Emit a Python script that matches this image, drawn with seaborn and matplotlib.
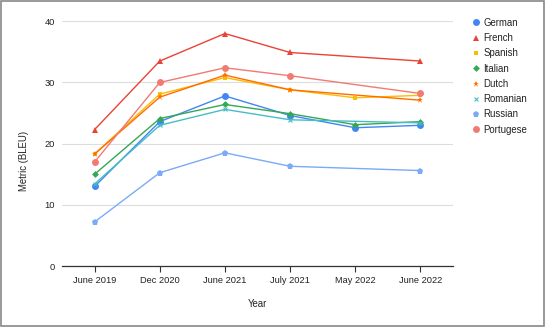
import numpy as np
import pandas as pd
import seaborn as sns
import matplotlib.pyplot as plt
from matplotlib.lines import Line2D
from matplotlib.patches import Rectangle

years = ["June 2019", "Dec 2020", "June 2021", "July 2021", "May 2022", "June 2022"]
languages = ["German", "French", "Spanish", "Italian", "Dutch", "Romanian", "Russian", "Portugese"]

german = [13.0, 23.6, 27.8, 24.6, 22.6, 23.0]
french = [22.3, 33.5, 38.0, 34.9, np.nan, 33.5]
spanish = [18.3, 28.1, 30.8, 28.8, 27.5, 27.9]
italian = [15.0, 24.1, 26.4, 24.9, 23.1, 23.6]
dutch = [18.3, 27.6, 31.2, 28.8, np.nan, 27.1]
romanian = [13.4, 23.0, 25.6, 23.9, np.nan, 23.4]
russian = [7.2, 15.25, 18.5, 16.3, np.nan, 15.6]
portugese = [17.0, 30.0, 32.4, 31.1, np.nan, 28.2]

colors = ["#4285F4", "#EA4335", "#FBBC04", "#34A853", "#FF6D01", "#46BDC6", "#7BAAF7", "#F07B72"]
markers = ["o", "^", "s", "D", "*", "x", "p", "o"]
msizes = [5, 3.8, 3.5, 3.5, 5, 3.2, 4.6, 5]

series = [german, french, spanish, italian, dutch, romanian, russian, portugese]
df = pd.DataFrame(
    [(y, lang, v) for lang, vals in zip(languages, series) for y, v in zip(years, vals)],
    columns=["Year", "Language", "BLEU"],
)

sns.set_style("white")
plt.rcParams["font.family"] = ["Liberation Sans", "DejaVu Sans"]

fig = plt.figure(figsize=(5.45, 3.27), dpi=100)
ax = fig.add_axes([62 / 545, 1 - 266 / 327, (453 - 62) / 545, (266 - 21.3) / 327])

for lang, col, mk, ms in zip(languages, colors, markers, msizes):
    sub = df[df["Language"] == lang]
    sns.lineplot(data=sub, x="Year", y="BLEU", color=col, marker=mk, markersize=ms,
                 markeredgecolor=col, markeredgewidth=0.8 if mk == "x" else 0,
                 linewidth=1, ax=ax, legend=False, sort=False)

ax.set_xlim(-0.5, 5.5)
ax.set_ylim(0, 40)
ax.set_yticks([0, 10, 20, 30, 40])
ax.grid(axis="y", color="#dddddd", linewidth=0.8)
ax.grid(axis="x", visible=False)
ax.set_axisbelow(True)
for s in ["left", "right", "top"]:
    ax.spines[s].set_visible(False)
ax.spines["bottom"].set_color("#333333")
ax.spines["bottom"].set_linewidth(0.9)
ax.tick_params(axis="x", length=4, width=0.8, color="#333333", labelsize=6.7,
               labelcolor="#222222", pad=3, bottom=True)
ax.tick_params(axis="y", length=0, labelsize=6.7, labelcolor="#222222", pad=5)
ax.set_xlabel("Year", fontsize=6.9, color="#222222", labelpad=10)
ax.set_ylabel("Metric (BLEU)", fontsize=6.9, color="#222222")
ax.yaxis.set_label_coords(-0.085, 0.43)

handles = [Line2D([], [], color=c, marker=m, linestyle="none", markersize=s,
                  markeredgewidth=0.8 if m == "x" else 0, markeredgecolor=c)
           for c, m, s in zip(colors, markers, msizes)]
fig.legend(handles, languages, loc="upper left", bbox_to_anchor=(469 / 545, 1 - 14 / 327),
           frameon=False, fontsize=6.9, handlelength=0.6, handletextpad=0.5,
           labelspacing=0.55, labelcolor="#222222", borderaxespad=0)

fig.patches.append(Rectangle((0.001, 0.002), 0.997, 0.996, transform=fig.transFigure,
                             fill=False, edgecolor="#888888", linewidth=1.2))

fig.savefig("out.png", dpi=100)
